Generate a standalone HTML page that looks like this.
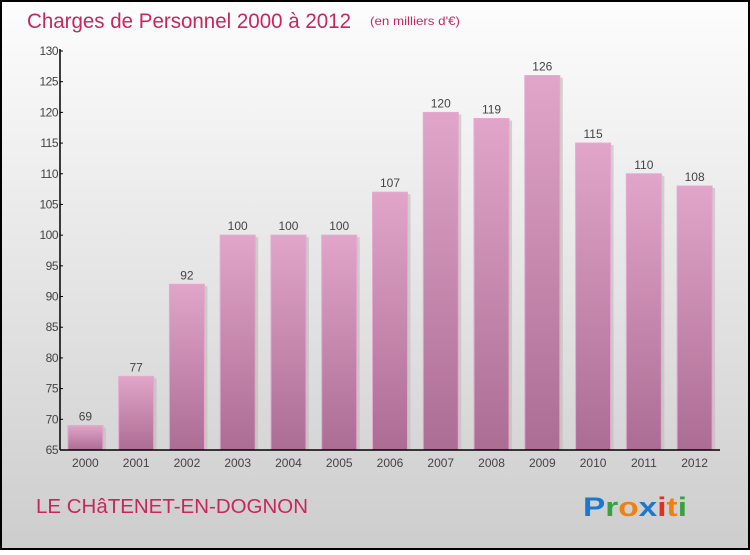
<!DOCTYPE html>
<html><head><meta charset="utf-8"><style>
body{margin:0}
#c{width:750px;height:550px;position:relative;font-family:"Liberation Sans",sans-serif}
</style></head><body>
<div id="c">
<svg id="s" width="750" height="550" xmlns="http://www.w3.org/2000/svg">
<defs>
<linearGradient id="bg" x1="0" y1="0" x2="0" y2="1"><stop offset="0" stop-color="#fdfdfd"/><stop offset="1" stop-color="#cdcdcd"/></linearGradient>
<linearGradient id="bar" x1="0" y1="0" x2="0" y2="1"><stop offset="0" stop-color="#e2a5ca"/><stop offset="1" stop-color="#ab6d93"/></linearGradient>
</defs>
<rect x="1" y="1" width="748" height="548" fill="url(#bg)" stroke="#000" stroke-width="2"/>
<text x="27" y="28" font-size="21" fill="#c8265e" textLength="324" lengthAdjust="spacingAndGlyphs">Charges de Personnel 2000 à 2012</text>
<text x="370" y="25" font-size="12" fill="#c8265e" textLength="90" lengthAdjust="spacingAndGlyphs">(en milliers d'€)</text>
<g id="bars"></g>
<g id="axes"></g>
<text x="36" y="513" font-size="20" fill="#c8265e" textLength="272" lengthAdjust="spacingAndGlyphs">LE CHâTENET-EN-DOGNON</text>
<text x="583" y="516" font-size="27" font-weight="bold" textLength="104" lengthAdjust="spacingAndGlyphs"><tspan fill="#1a78d0">P</tspan><tspan fill="#3aa040">r</tspan><tspan fill="#f08010">o</tspan><tspan fill="#1a78d0">x</tspan><tspan fill="#e03020">i</tspan><tspan fill="#f08010">t</tspan><tspan fill="#3aa040">i</tspan></text>
</svg>
</div>
<script>
const years=["2000","2001","2002","2003","2004","2005","2006","2007","2008","2009","2010","2011","2012"];
const values=[69,77,92,100,100,100,107,120,119,126,115,110,108];
const yTicks=[65,70,75,80,85,90,95,100,105,110,115,120,125,130];
const NS="http://www.w3.org/2000/svg";
const x0=60,x1=720,yMin=65,yMax=130,yb=450,yt=51;
const Y=v=>yb-(v-yMin)/(yMax-yMin)*(yb-yt);
const step=(x1-x0)/years.length;
const X=i=>x0+step*(i+0.5);
function mk(t,a,p){const e=document.createElementNS(NS,t);for(const k in a)e.setAttribute(k,a[k]);p.appendChild(e);return e;}
const bars=document.getElementById('bars'),axes=document.getElementById('axes');
years.forEach((yr,i)=>{
 const cx=X(i),w=35,top=Y(values[i]);
 mk('rect',{x:cx-w/2+3,y:top+2,width:w,height:yb-top-2,fill:'#bbb',opacity:0.6},bars);
 const r=mk('rect',{x:cx-w/2,y:top,width:w,height:yb-top,fill:'url(#bar)',stroke:'#e6a9cd','stroke-width':1},bars);
 
 
 const l=mk('text',{x:cx,y:top-5,'font-size':12,fill:'#444','text-anchor':'middle'},bars);l.textContent=values[i];
 
 
 const xl=mk('text',{x:cx,y:467,'font-size':12,fill:'#444','text-anchor':'middle'},axes);xl.textContent=yr;
 
 
});
const ya=mk('line',{x1:x0,y1:yt-2,x2:x0,y2:yb,stroke:'#000','stroke-width':1.5},axes);


const xa=mk('line',{x1:x0,y1:yb,x2:x1,y2:yb,stroke:'#000','stroke-width':1.5},axes);


yTicks.forEach(v=>{
 mk('line',{x1:x0,y1:Y(v),x2:x0+3,y2:Y(v),stroke:'#000'},axes);
 const t=mk('text',{x:x0-2,y:Y(v)+4,'font-size':12,fill:'#444','text-anchor':'end','letter-spacing':'-0.5'},axes);t.textContent=v;
 
 
});
</script>
</body></html>
